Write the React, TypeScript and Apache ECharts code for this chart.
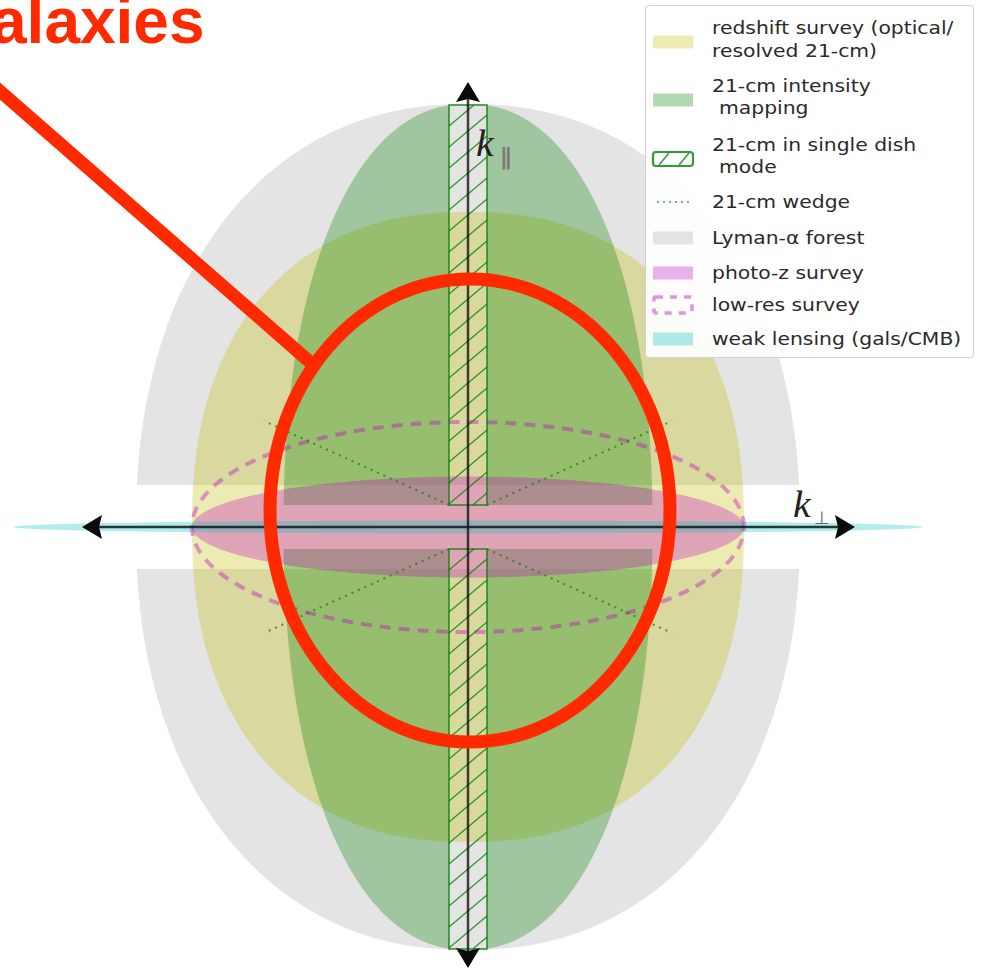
import React, { useEffect, useRef } from 'react';
import * as echarts from 'echarts';

// Survey footprints in the (k_perp, k_par) plane, arbitrary k units, centred on k = 0.
const footprintNames = ['Lyman-α forest', 'redshift survey', '21-cm intensity mapping', 'photo-z survey', 'weak lensing', 'low-res survey'];
const kPerpReach = [3.32, 2.76, 1.845, 2.76, 4.55, 2.76];
const kParReach = [4.23, 3.15, 4.23, 0.505, 0.065, 1.05];
const edgeExponent = [2.2, 2.3, 2.2, 2.0, 2.0, 2.0];
const kParFloor = [0.42, 0, 0.22, 0, 0, 0];
const kPerpFloor = [0, 0, 0.19, 0, 0, 0];

// 21-cm single-dish strip (|k_perp| below the interferometer limit)
const singleDishKPerp = 0.19;
const singleDishKPar = [0.22, 4.22];

// 21-cm foreground wedge edges
const wedgeKPerp = [0.19, 2.04];
const wedgeKPar = [0.22, 1.06];

// Axis arrow extents
const kPerpAxis = [-3.86, 3.87];
const kParAxis = [-4.41, 4.45];

// Legend entries
const legendLabels = [
  ['redshift survey (optical/', 'resolved 21-cm)'],
  ['21-cm intensity', 'mapping'],
  ['21-cm in single dish', 'mode'],
  ['21-cm wedge'],
  ['Lyman-α forest'],
  ['photo-z survey'],
  ['low-res survey'],
  ['weak lensing (gals/CMB)'],
];

const YELLOW = 'rgba(191,191,0,0.3)';
const GREEN = 'rgba(0,128,0,0.3)';
const PINK = 'rgba(191,0,191,0.3)';
const CYAN = 'rgba(0,191,191,0.3)';
const GRAY = '#e4e4e4';
const RED = '#ff2a00';
const footprintFill = [GRAY, YELLOW, GREEN, PINK, CYAN, 'none'];

function outline(a: number, b: number, n: number, t0: number, t1: number, steps = 220) {
  const pts: number[][] = [];
  for (let i = 0; i <= steps; i++) {
    const t = t0 + ((t1 - t0) * i) / steps;
    const c = Math.cos(t);
    const s = Math.sin(t);
    pts.push([
      Math.sign(c) * a * Math.pow(Math.abs(c), 2 / n),
      Math.sign(s) * b * Math.pow(Math.abs(s), 2 / n),
    ]);
  }
  return pts;
}

// Pieces of a footprint after removing the low-k_par band and the low-k_perp strip
function footprintPieces(i: number) {
  const a = kPerpReach[i];
  const b = kParReach[i];
  const n = edgeExponent[i];
  const f = kParFloor[i];
  const g = kPerpFloor[i];
  if (f === 0 && g === 0) return [outline(a, b, n, 0, 2 * Math.PI, 400)];
  const tLow = Math.asin(Math.pow(f / b, n / 2));
  if (g === 0) {
    const top = outline(a, b, n, tLow, Math.PI - tLow, 300);
    return [top, top.map(([x, y]) => [x, -y])];
  }
  const tHigh = Math.acos(Math.pow(g / a, n / 2));
  const quad = [[g, f], ...outline(a, b, n, tLow, tHigh, 160)];
  return [
    [1, 1],
    [-1, 1],
    [-1, -1],
    [1, -1],
  ].map(([sx, sy]) => quad.map(([x, y]) => [sx * x, sy * y]));
}

function layer(name: string, draw: (api: any) => any[]) {
  return {
    type: 'custom',
    name,
    silent: true,
    coordinateSystem: 'cartesian2d',
    data: [[0, 0]],
    renderItem: (_params: any, api: any) => ({ type: 'group', children: draw(api) }),
  };
}

function footprintLayer(i: number) {
  return layer(footprintNames[i], (api) =>
    footprintPieces(i).map((pts) => ({
      type: 'polygon',
      shape: { points: pts.map((p) => api.coord(p)) },
      style:
        footprintFill[i] === 'none'
          ? { fill: 'none', stroke: 'rgba(191,0,191,0.38)', lineWidth: 4, lineDash: [11, 8] }
          : { fill: footprintFill[i] },
    }))
  );
}

function hatchLines(L: number, R: number, T: number, B: number) {
  const out: any[] = [];
  const step = 21;
  const rise = 32;
  for (let y = T; y <= B + rise; y += step) {
    let x1 = L, y1 = y, x2 = R, y2 = y - rise;
    if (y1 > B) {
      const t = (y1 - B) / rise;
      x1 = L + t * (R - L);
      y1 = B;
    }
    if (y2 < T) {
      const t = (y - T) / rise;
      x2 = L + t * (R - L);
      y2 = T;
    }
    if (x2 <= x1) continue;
    out.push({
      type: 'line',
      shape: { x1, y1, x2, y2 },
      style: { stroke: 'rgba(0,128,0,0.75)', lineWidth: 1.5 },
    });
  }
  return out;
}

const wedgeLayer = layer('21-cm wedge', (api) =>
  [
    [1, 1],
    [-1, 1],
    [-1, -1],
    [1, -1],
  ].map(([sx, sy]) => {
    const p1 = api.coord([sx * wedgeKPerp[0], sy * wedgeKPar[0]]);
    const p2 = api.coord([sx * wedgeKPerp[1], sy * wedgeKPar[1]]);
    return {
      type: 'line',
      shape: { x1: p1[0], y1: p1[1], x2: p2[0], y2: p2[1] },
      style: { stroke: 'rgba(0,128,0,0.7)', lineWidth: 2, lineDash: [2, 5] },
    };
  })
);

const stripLayer = layer('21-cm in single dish mode', (api) => {
  const out: any[] = [];
  [1, -1].forEach((sy) => {
    const a = api.coord([-singleDishKPerp, sy * singleDishKPar[1]]);
    const b = api.coord([singleDishKPerp, sy * singleDishKPar[0]]);
    const L = a[0], R = b[0];
    const T = Math.min(a[1], b[1]);
    const B = Math.max(a[1], b[1]);
    out.push(...hatchLines(L, R, T, B));
    out.push({
      type: 'rect',
      shape: { x: L, y: T, width: R - L, height: B - T },
      style: { fill: 'none', stroke: 'rgba(0,128,0,0.85)', lineWidth: 1.5 },
    });
  });
  return out;
});

function arrowHead(tip: number[], dir: number[]) {
  const len = 20;
  const half = 12;
  const bx = tip[0] - dir[0] * len;
  const by = tip[1] - dir[1] * len;
  const nx = -dir[1];
  const ny = dir[0];
  return {
    type: 'polygon',
    shape: {
      points: [
        tip,
        [bx + nx * half, by + ny * half],
        [bx + dir[0] * 3, by + dir[1] * 3],
        [bx - nx * half, by - ny * half],
      ],
    },
    style: { fill: '#0a0a0a' },
  };
}

const axesLayer = layer('axes', (api) => {
  const left = api.coord([kPerpAxis[0], 0]);
  const right = api.coord([kPerpAxis[1], 0]);
  const top = api.coord([0, kParAxis[1]]);
  const bottom = api.coord([0, kParAxis[0]]);
  return [
    {
      type: 'line',
      shape: { x1: left[0] + 12, y1: left[1], x2: right[0] - 12, y2: right[1] },
      style: { stroke: 'rgba(10,25,25,0.85)', lineWidth: 2.5 },
    },
    {
      type: 'line',
      shape: { x1: top[0], y1: top[1] + 12, x2: bottom[0], y2: bottom[1] - 12 },
      style: { stroke: 'rgba(20,20,20,0.8)', lineWidth: 2.5 },
    },
    arrowHead(left, [-1, 0]),
    arrowHead(right, [1, 0]),
    arrowHead(top, [0, -1]),
    arrowHead(bottom, [0, 1]),
    {
      type: 'text',
      x: top[0] + 8,
      y: top[1] + 61,
      scaleX: 1.05,
      style: { text: 'k', font: 'italic 38px "Liberation Serif"', fill: '#222', textAlign: 'left', textVerticalAlign: 'middle' },
    },
    {
      type: 'text',
      x: top[0] + 32,
      y: top[1] + 75,
      style: { text: '∥', font: 'bold 23px "DejaVu Sans"', fill: '#7a7a7a', textAlign: 'left', textVerticalAlign: 'middle' },
    },
    {
      type: 'text',
      x: right[0] - 62,
      y: right[1] - 23,
      scaleX: 1.05,
      style: { text: 'k', font: 'italic 38px "Liberation Serif"', fill: '#222', textAlign: 'left', textVerticalAlign: 'middle' },
    },
    {
      type: 'text',
      x: right[0] - 41,
      y: right[1] - 10,
      style: { text: '⊥', font: '18px "DejaVu Sans"', fill: '#666', textAlign: 'left', textVerticalAlign: 'middle' },
    },
  ];
});

function buildLegend() {
  const Z = 100;
  const els: any[] = [];
  els.push({
    type: 'rect',
    z: Z,
    shape: { x: 645.5, y: 5.5, width: 328, height: 352, r: 3 },
    style: { fill: 'rgba(255,255,255,0.92)', stroke: '#cfcfcf', lineWidth: 1 },
  });
  const rowY = [[28, 51], [86, 108], [145, 167], [202], [238], [273], [305], [339]];
  const swatchY = [42, 100, 159, 202, 238, 273, 305, 339];
  const sx = 653;
  const sw = 40;
  const plain: Record<number, string> = { 0: YELLOW, 1: GREEN, 4: GRAY, 5: PINK, 7: CYAN };
  legendLabels.forEach((lines, i) => {
    const cy = swatchY[i];
    if (plain[i]) {
      els.push({ type: 'rect', z: Z, shape: { x: sx, y: cy - 6.5, width: sw, height: 13 }, style: { fill: plain[i] } });
    } else if (i === 2) {
      els.push({
        type: 'rect',
        z: Z,
        shape: { x: sx, y: cy - 7, width: sw, height: 14, r: 3 },
        style: { fill: '#fff', stroke: 'rgba(0,128,0,0.8)', lineWidth: 2.2 },
      });
      els.push({ type: 'line', z: Z, shape: { x1: sx + 6, y1: cy + 6, x2: sx + 16, y2: cy - 6 }, style: { stroke: 'rgba(0,128,0,0.8)', lineWidth: 1.5 } });
      els.push({ type: 'line', z: Z, shape: { x1: sx + 26, y1: cy + 6, x2: sx + 36, y2: cy - 6 }, style: { stroke: 'rgba(0,128,0,0.8)', lineWidth: 1.5 } });
    } else if (i === 3) {
      els.push({ type: 'line', z: Z, shape: { x1: sx + 4, y1: cy, x2: sx + 36, y2: cy }, style: { stroke: 'rgba(0,128,0,0.7)', lineWidth: 1.5, lineDash: [2, 4] } });
    } else if (i === 6) {
      els.push({
        type: 'rect',
        z: Z,
        shape: { x: sx + 1, y: cy - 8, width: sw - 2, height: 16, r: 2 },
        style: { fill: 'none', stroke: 'rgba(200,60,200,0.55)', lineWidth: 3.5, lineDash: [7, 7] },
      });
    }
    lines.forEach((t, k) => {
      els.push({
        type: 'text',
        z: Z,
        x: k === 0 ? 712 : i === 1 || i === 2 ? 719 : 712,
        y: rowY[i][k],
        scaleX: 1.13,
        style: { text: t, font: '18px "DejaVu Sans"', fill: '#2a2a2a', textAlign: 'left', textVerticalAlign: 'middle' },
      });
    });
  });
  return els;
}

function buildAnnotation() {
  const Z = 110;
  return [
    {
      type: 'ellipse',
      z: Z,
      shape: { cx: 470, cy: 510.5, rx: 200, ry: 231.5 },
      style: { fill: 'none', stroke: RED, lineWidth: 13 },
    },
    {
      type: 'line',
      z: Z,
      shape: { x1: -6, y1: 86, x2: 311, y2: 363 },
      style: { stroke: RED, lineWidth: 13 },
    },
    {
      // Heading runs off the top-left corner of the slide
      type: 'text',
      z: Z,
      x: -9,
      y: 21,
      style: { text: 'alaxies', font: 'bold 64px "Liberation Sans"', fill: RED, textAlign: 'left', textVerticalAlign: 'middle' },
    },
  ];
}

function buildOption() {
  return {
    animation: false,
    backgroundColor: '#ffffff',
    grid: { left: 0, right: 0, top: 0, bottom: 0 },
    xAxis: { type: 'value', min: -4.68, max: 5.15, show: false },
    yAxis: { type: 'value', min: -4.5, max: 5.27, show: false },
    series: [
      footprintLayer(0),
      footprintLayer(1),
      footprintLayer(2),
      footprintLayer(3),
      footprintLayer(4),
      footprintLayer(5),
      wedgeLayer,
      stripLayer,
      axesLayer,
    ],
    graphic: [...buildLegend(), ...buildAnnotation()],
  };
}

export default function App() {
  const ref = useRef<HTMLDivElement>(null);
  useEffect(() => {
    const chart = echarts.init(ref.current as HTMLDivElement, null, { renderer: 'svg' });
    chart.setOption(buildOption() as any);
    return () => chart.dispose();
  }, []);
  return <div ref={ref} style={{ position: 'fixed', left: 0, top: 0, width: 983, height: 977, background: '#fff' }} />;
}
